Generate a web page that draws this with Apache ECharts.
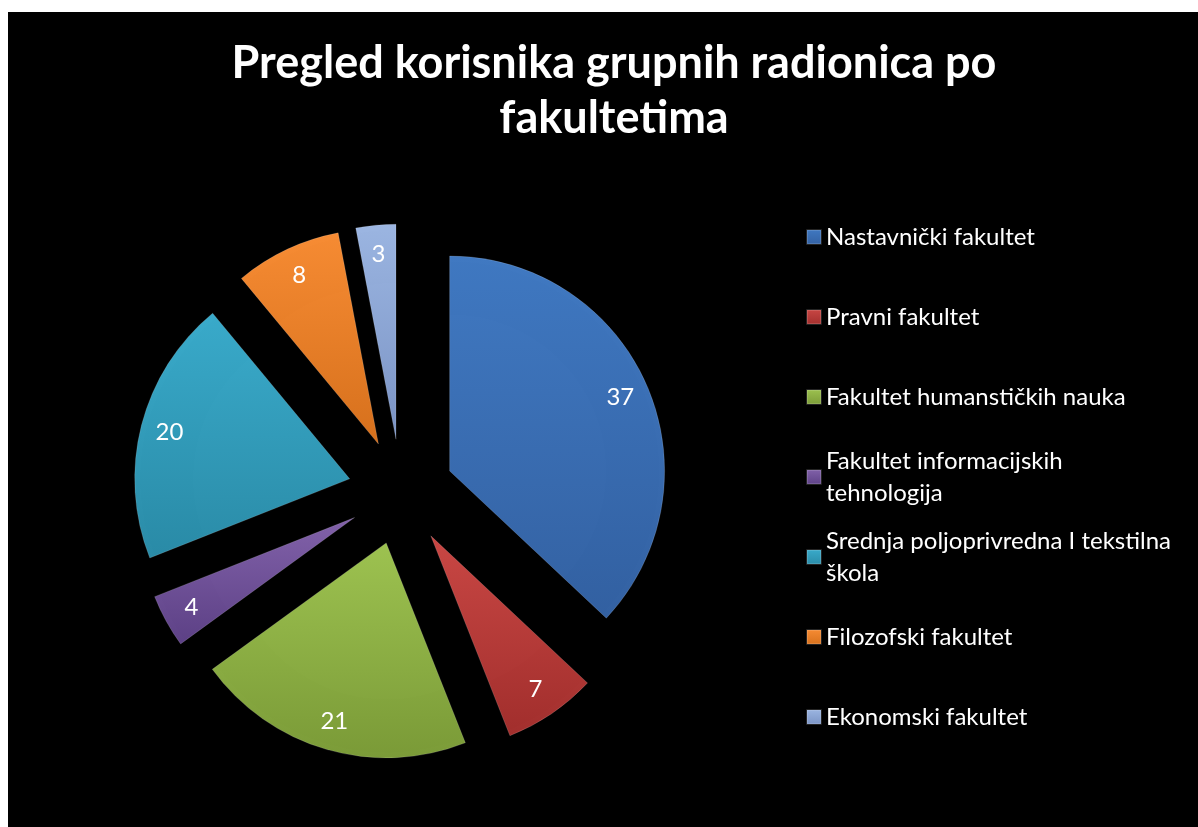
<!DOCTYPE html>
<html>
<head>
<meta charset="utf-8">
<script src="https://cdn.jsdelivr.net/npm/echarts@6/dist/echarts.min.js"></script>
<style>
  html, body { margin: 0; padding: 0; background: #fff; }
  #chart { position: absolute; left: 8px; top: 12px; width: 1190px; height: 815px; }
</style>
</head>
<body>
<div id="chart"></div>
<script>
// data
const faculties = [
  'Nastavnički fakultet',
  'Pravni fakultet',
  'Fakultet humanstičkih nauka',
  'Fakultet informacijskih tehnologija',
  'Srednja poljoprivredna I tekstilna škola',
  'Filozofski fakultet',
  'Ekonomski fakultet'
]
const legendLabels = [
  'Nastavnički fakultet',
  'Pravni fakultet',
  'Fakultet humanstičkih nauka',
  'Fakultet informacijskih\ntehnologija',
  'Srednja poljoprivredna I tekstilna\nškola',
  'Filozofski fakultet',
  'Ekonomski fakultet'
]
const users = [37, 7, 21, 4, 20, 8, 3]

// bevel-ish shading, top -> bottom
const palette = [
  ['#4079c2', '#3361a2'],
  ['#c94744', '#a22f2d'],
  ['#9dc250', '#7b9b38'],
  ['#8262aa', '#5d4186'],
  ['#3aabcb', '#2a8ba7'],
  ['#f78c34', '#d6701c'],
  ['#9cb6e2', '#7a93c4']
]

function grad(c) {
  return {
    type: 'linear', x: 0, y: 0, x2: 0, y2: 1,
    colorStops: [{ offset: 0, color: c[0] }, { offset: 1, color: c[1] }]
  }
}

let slices = [], labelRing = []
faculties.forEach((f, i) => {
  slices.push({
    name: f, value: users[i], selected: true,
    itemStyle: { color: grad(palette[i]) }
  })
  labelRing.push({ name: f, value: users[i], selected: true })
})

// two-line entries keep the icon on their first line
const legendData = faculties.map((f, i) => {
  let two = legendLabels[i].indexOf('\n') >= 0
  return two ? { name: f, textStyle: { padding: [32, 0, 0, 0] } } : { name: f }
})

var myChart = echarts.init(document.getElementById('chart'), null, { renderer: 'canvas' })

myChart.setOption({
  backgroundColor: '#000',
  animation: false,
  title: {
    text: 'Pregled korisnika grupnih radionica po\nfakultetima',
    left: 606,
    top: 24,
    padding: 0,
    textAlign: 'center',
    textStyle: {
      color: '#fff',
      fontFamily: 'Lato',
      fontWeight: 'bold',
      fontSize: 45,
      lineHeight: 55
    }
  },
  legend: {
    orient: 'vertical',
    left: 798,
    top: 177,
    padding: 0,
    itemWidth: 14,
    itemHeight: 14,
    itemGap: -16,
    icon: 'rect',
    selectedMode: false,
    data: legendData,
    formatter: name => legendLabels[faculties.indexOf(name)],
    textStyle: {
      color: '#fff',
      fontFamily: 'Lato',
      fontSize: 24,
      lineHeight: 32,
      padding: [32, 0, 32, 0],
      backgroundColor: 'rgba(0,0,0,0)'
    }
  },
  series: [
    {
      name: 'Korisnici',
      type: 'pie',
      center: [393, 480],
      radius: 215,
      selectedMode: 'multiple',
      selectedOffset: 53,
      startAngle: 90,
      clockwise: true,
      label: { show: false },
      labelLine: { show: false },
      emphasis: { scale: false },
      itemStyle: { borderColor: 'rgba(255,255,255,0.14)', borderWidth: 1 },
      data: slices
    },
    {
      // near-invisible ring that only carries the value labels
      name: 'Oznake',
      type: 'pie',
      center: [393, 480],
      radius: [156, 210],
      selectedMode: 'multiple',
      selectedOffset: 53,
      startAngle: 90,
      legendHoverLink: false,
      itemStyle: { color: 'rgba(0,0,0,0.003)' },
      emphasis: { scale: false },
      label: {
        show: true,
        position: 'inside',
        formatter: '{c}',
        color: '#fff',
        fontFamily: 'Lato',
        fontSize: 24
      },
      labelLine: { show: false },
      data: labelRing
    }
  ]
})
</script>
</body>
</html>
